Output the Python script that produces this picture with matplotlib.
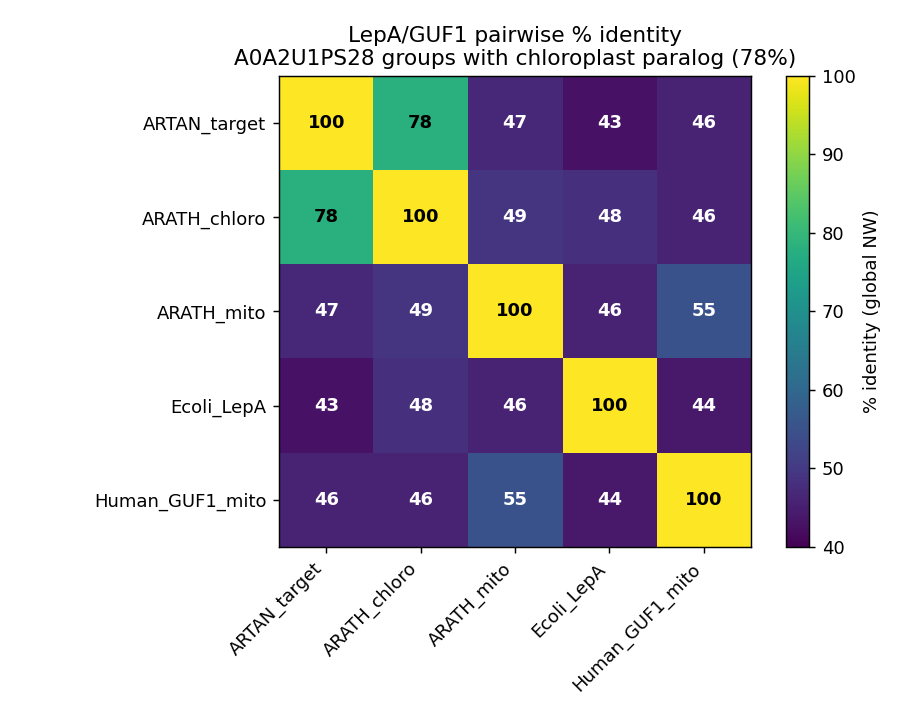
import numpy as np
import matplotlib
matplotlib.use("Agg")
import matplotlib.pyplot as plt

labels = ["ARTAN_target", "ARATH_chloro", "ARATH_mito", "Ecoli_LepA", "Human_GUF1_mito"]
identity = [
    [100, 78, 47, 43, 46],
    [78, 100, 49, 48, 46],
    [47, 49, 100, 46, 55],
    [43, 48, 46, 100, 44],
    [46, 46, 55, 44, 100],
]

mat = np.array(identity, dtype=float)

fig = plt.figure(figsize=(7, 5.5), dpi=130)
ax = fig.add_axes([0.3066, 0.235, 0.5187, 0.6587])
cax = fig.add_axes([0.8637, 0.235, 0.0253, 0.6587])

im = ax.imshow(mat, cmap="viridis", vmin=40, vmax=100, aspect="auto")
ax.set_xticks(range(len(labels)))
ax.set_yticks(range(len(labels)))
ax.set_xticklabels(labels, rotation=45, ha="right")
ax.set_yticklabels(labels)

for i in range(len(labels)):
    for j in range(len(labels)):
        v = mat[i, j]
        color = "black" if v > 70 else "white"
        ax.text(j, i, f"{v:.0f}", ha="center", va="center",
                color=color, fontweight="bold", fontsize=10)

ax.set_title("LepA/GUF1 pairwise % identity\nA0A2U1PS28 groups with chloroplast paralog (78%)")

cb = fig.colorbar(im, cax=cax)
cb.set_label("% identity (global NW)")

fig.savefig("out.png", dpi=130)
